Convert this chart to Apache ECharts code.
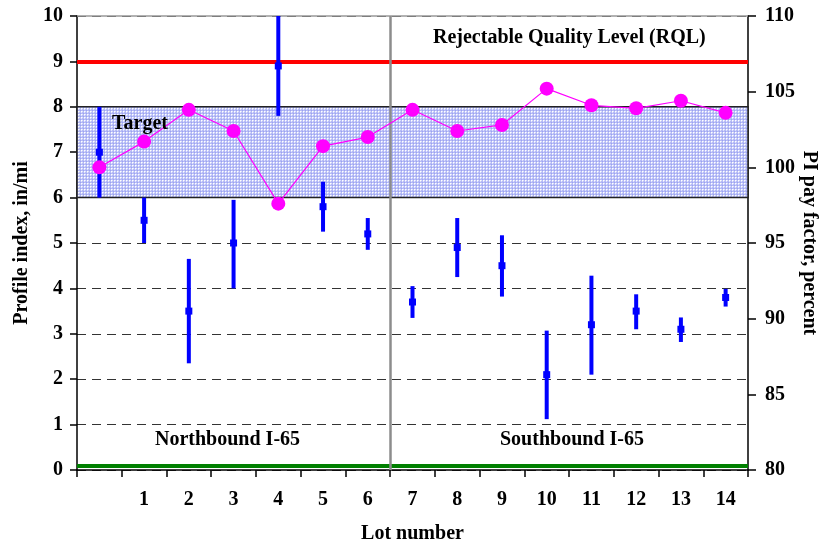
<!DOCTYPE html>
<html>
<head>
<meta charset="utf-8">
<script src="https://cdn.jsdelivr.net/npm/echarts@6/dist/echarts.min.js"></script>
<style>html,body{margin:0;padding:0;background:#fff;overflow:hidden}#c{width:820px;height:543px}</style>
</head>
<body>
<div id="c"></div>
<script>
const lots = ['', '1', '2', '3', '4', '5', '6', '7', '8', '9', '10', '11', '12', '13', '14'];
const piCenter = [7.0, 5.5, 3.5, 5.0, 8.9, 5.8, 5.2, 3.7, 4.9, 4.5, 2.1, 3.2, 3.5, 3.1, 3.8];
const piLow    = [6.0, 5.0, 2.35, 4.0, 7.8, 5.25, 4.85, 3.35, 4.25, 3.82, 1.12, 2.1, 3.1, 2.82, 3.6];
const piHigh   = [8.0, 6.0, 4.65, 5.95, 10.0, 6.35, 5.55, 4.05, 5.55, 5.17, 3.07, 4.28, 3.87, 3.36, 3.99];
const payFactor = [100.0, 101.7, 103.8, 102.4, 97.6, 101.4, 102.0, 103.8, 102.4, 102.8, 105.2, 104.1, 103.9, 104.4, 103.6];
const leftTicks = { min: 0, max: 10, interval: 1 };
const rightTicks = { min: 80, max: 110, interval: 5 };
const targetBand = [6, 8];
const rql = 9;
const baseLine = 0.1;
const dividerAt = 6.5;

const FONT = '"Liberation Serif", "Times New Roman", serif';

// hatch pattern for target band
const pc = document.createElement('canvas');
pc.width = 3; pc.height = 3;
const pctx = pc.getContext('2d');
pctx.fillStyle = '#b4baf6'; pctx.fillRect(0, 0, 3, 3);
pctx.fillStyle = '#ffffff'; pctx.fillRect(0, 0, 1, 1);
pctx.fillStyle = '#dfe2fc'; pctx.fillRect(1, 0, 1, 1); pctx.fillRect(0, 1, 1, 1);
pctx.fillStyle = '#9ca3f0'; pctx.fillRect(2, 2, 1, 1);

const errData = lots.map((l, i) => [i, piLow[i], piHigh[i], piCenter[i]]);

const chart = echarts.init(document.getElementById('c'), null, { renderer: 'canvas' });
chart.setOption({
  animation: false,
  backgroundColor: '#ffffff',
  grid: { left: 77, right: 72, top: 16, bottom: 73, containLabel: false, outerBoundsMode: 'none' },
  xAxis: [
    {
      type: 'category',
      data: lots,
      boundaryGap: true,
      name: 'Lot number',
      nameLocation: 'middle',
      nameGap: 54,
      nameTextStyle: { fontFamily: FONT, fontWeight: 'bold', fontSize: 20, color: '#000' },
      axisLine: { onZero: false, lineStyle: { color: '#000', width: 1.5 } },
      axisTick: { show: true, interval: 0, length: 7, lineStyle: { color: '#000', width: 1.5 } },
      axisLabel: { interval: 0, margin: 20, fontFamily: FONT, fontWeight: 'bold', fontSize: 20, color: '#000' },
      splitLine: { show: false }
    },
    {
      type: 'value', min: -0.5, max: lots.length - 0.5, show: false,
      axisLine: { onZero: false },
      splitLine: { show: false }
    }
  ],
  yAxis: [
    {
      type: 'value', min: leftTicks.min, max: leftTicks.max, interval: leftTicks.interval,
      name: 'Profile index, in/mi', nameLocation: 'middle', nameGap: 44, nameRotate: 90,
      nameTextStyle: { fontFamily: FONT, fontWeight: 'bold', fontSize: 20, color: '#000' },
      axisLine: { show: true, onZero: false, lineStyle: { color: '#000', width: 1.5 } },
      axisTick: { show: true, length: 7, lineStyle: { color: '#000', width: 1.5 } },
      axisLabel: { margin: 14, fontFamily: FONT, fontWeight: 'bold', fontSize: 20, color: '#000' },
      splitLine: { show: true, lineStyle: { color: '#333', type: [9, 6], width: 1 } }
    },
    {
      type: 'value', min: rightTicks.min, max: rightTicks.max, interval: rightTicks.interval,
      position: 'right',
      axisLine: { show: true, onZero: false, lineStyle: { color: '#000', width: 1.5 } },
      axisTick: { show: true, length: 8, lineStyle: { color: '#000', width: 1.5 } },
      axisLabel: { margin: 17, fontFamily: FONT, fontWeight: 'bold', fontSize: 20, color: '#000' },
      splitLine: { show: false }
    }
  ],
  series: [
    {
      name: 'bands',
      type: 'line',
      data: [],
      xAxisIndex: 1,
      yAxisIndex: 0,
      silent: true,
      z: 1,
      markArea: {
        silent: true,
        itemStyle: { color: { image: pc, repeat: 'repeat' }, borderColor: '#222', borderWidth: 1.5 },
        data: [[{ yAxis: targetBand[0] }, { yAxis: targetBand[1] }]]
      },
      markLine: {
        silent: true, symbol: 'none', label: { show: false },
        data: [
          { yAxis: leftTicks.max, lineStyle: { color: '#999', width: 1.5, type: 'solid' } },
          { yAxis: rql, lineStyle: { color: '#ff0000', width: 4, type: 'solid' } },
          { yAxis: baseLine, lineStyle: { color: '#008000', width: 4, type: 'solid' } },
          { xAxis: dividerAt, lineStyle: { color: '#8c8c8c', width: 2.5, type: 'solid' } }
        ]
      }
    },
    {
      name: 'PI range',
      type: 'custom',
      xAxisIndex: 0,
      yAxisIndex: 0,
      z: 5,
      data: errData,
      renderItem: function (params, api) {
        const x = api.value(0);
        const lo = api.coord([x, api.value(1)]);
        const hi = api.coord([x, api.value(2)]);
        const c = api.coord([x, api.value(3)]);
        return {
          type: 'group',
          children: [
            { type: 'line', shape: { x1: lo[0], y1: lo[1], x2: hi[0], y2: hi[1] }, style: { stroke: '#0000ff', lineWidth: 4 } },
            { type: 'rect', shape: { x: c[0] - 3.5, y: c[1] - 3.5, width: 7, height: 7 }, style: { fill: '#0000ff' } }
          ]
        };
      }
    },
    {
      name: 'Pay factor',
      type: 'line',
      xAxisIndex: 0,
      yAxisIndex: 1,
      z: 10,
      data: payFactor,
      symbol: 'circle',
      symbolSize: 14,
      lineStyle: { color: '#ff00ff', width: 1.2 },
      itemStyle: { color: '#ff00ff' }
    }
  ],
  graphic: [
    { type: 'text', left: 112, top: 114, z: 20, style: { text: 'Target', font: 'bold 20px ' + FONT, fill: '#000' } },
    { type: 'text', left: 433, top: 28, z: 20, style: { text: 'Rejectable Quality Level (RQL)', font: 'bold 20px ' + FONT, fill: '#000' } },
    { type: 'text', left: 155, top: 430, z: 20, style: { text: 'Northbound I-65', font: 'bold 20px ' + FONT, fill: '#000' } },
    { type: 'text', left: 500, top: 430, z: 20, style: { text: 'Southbound I-65', font: 'bold 20px ' + FONT, fill: '#000' } },
    { type: 'text', x: 809, y: 243, rotation: -Math.PI / 2, z: 20,
      style: { text: 'PI pay factor, percent', font: 'bold 20px ' + FONT, fill: '#000', textAlign: 'center', textVerticalAlign: 'middle' } }
  ]
});
</script>
</body>
</html>
